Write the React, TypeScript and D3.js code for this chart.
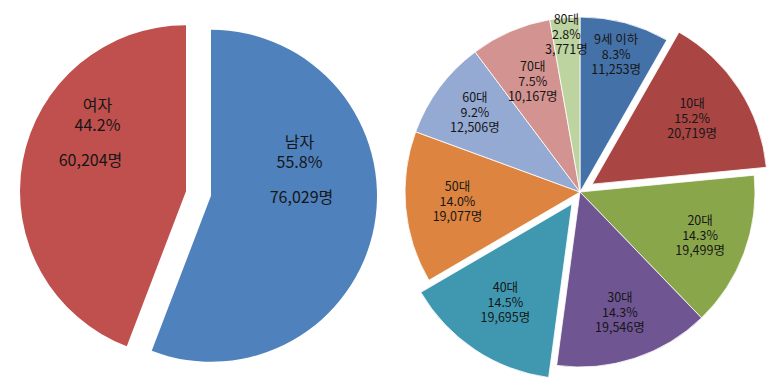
import * as d3 from 'd3';

// 성별
const GENDER_LABELS = ['남자', '여자'];
const GENDER_COUNTS = [76029, 60204];
const GENDER_PCTS = ['55.8%', '44.2%'];

// 연령대
const AGE_LABELS = ['9세 이하', '10대', '20대', '30대', '40대', '50대', '60대', '70대', '80대'];
const AGE_COUNTS = [11253, 20719, 19499, 19546, 19695, 19077, 12506, 10167, 3771];
const AGE_PCTS = ['8.3%', '15.2%', '14.3%', '14.3%', '14.5%', '14.0%', '9.2%', '7.5%', '2.8%'];
const AGE_EXPLODED = ['10대', '40대'];

const GENDER_COLORS = ['#4F81BD', '#C0504D'];
const AGE_COLORS = ['#4471A7', '#A94543', '#8AA64B', '#6F5591', '#3F98B0', '#DC8440', '#95AAD2', '#D39391', '#BDD3A0'];
// label distance from slice tip (Excel "best fit" pushes small slices outward)
const AGE_LABEL_R = [141, 119, 128, 128, 120, 123, 131, 119, 157];

const FONT = '"Noto Sans CJK KR", "Noto Sans", sans-serif';
const TEXT = '#161616';

const fmt = d3.format(',');

function offset(a: number, d: number): [number, number] {
  return [Math.sin(a) * d, -Math.cos(a) * d];
}

export default function App() {
  const pie = d3.pie<number>().sort(null).value(d => d);

  // left pie
  const lc = [198.5, 193.5];
  const lr = 166;
  const lArc = d3.arc<d3.PieArcDatum<number>>().innerRadius(0).outerRadius(lr);
  const lLabel = d3.arc<d3.PieArcDatum<number>>().innerRadius(90).outerRadius(90);
  const gArcs = pie(GENDER_COUNTS);

  // right pie
  const rc = [580, 192];
  const rr = 175;
  const rArc = d3.arc<d3.PieArcDatum<number>>().innerRadius(0).outerRadius(rr);
  const aArcs = pie(AGE_COUNTS);

  const txt = (x: number, y: number, s: string, size: number, key: string) => (
    <text key={key} x={x} y={y} textAnchor="middle" dominantBaseline="middle"
      fontFamily={FONT} fontSize={size} fill={TEXT}>{s}</text>
  );

  return (
    <svg width={780} height={390} style={{ position: 'absolute', left: 0, top: 0, background: '#fff' }}>
      <g transform={`translate(${lc[0]},${lc[1]})`}>
        {gArcs.map((a, i) => {
          const mid = (a.startAngle + a.endAngle) / 2;
          const [dx, dy] = offset(mid, 12.7);
          const [lx, ly] = lLabel.centroid(a);
          const y0 = ly - 68;
          return (
            <g key={i} transform={`translate(${dx},${dy})`}>
              <path d={lArc(a) || ''} fill={GENDER_COLORS[i]} />
              {txt(lx, y0, GENDER_LABELS[i], 16, 'n')}
              {txt(lx, y0 + 20, GENDER_PCTS[i], 16, 'p')}
              {txt(lx + (lx < 0 ? -7 : 2), y0 + 55, `${fmt(GENDER_COUNTS[i])}명`, 16, 'c')}
            </g>
          );
        })}
      </g>

      <g transform={`translate(${rc[0]},${rc[1]})`}>
        {aArcs.map((a, i) => {
          const mid = (a.startAngle + a.endAngle) / 2;
          const [dx, dy] = AGE_EXPLODED.includes(AGE_LABELS[i]) ? offset(mid, 14.5) : [0, 0];
          return (
            <g key={i} transform={`translate(${dx},${dy})`}>
              <path d={rArc(a) || ''} fill={AGE_COLORS[i]} stroke="#fff" strokeWidth={0.8} />
            </g>
          );
        })}
        {aArcs.map((a, i) => {
          const mid = (a.startAngle + a.endAngle) / 2;
          const [dx, dy] = AGE_EXPLODED.includes(AGE_LABELS[i]) ? offset(mid, 14.5) : [0, 0];
          const [ox, oy] = offset(mid, AGE_LABEL_R[i]);
          const x = dx + ox;
          const y = dy + oy;
          return (
            <g key={i}>
              {txt(x, y - 15, AGE_LABELS[i], 12.5, 'n')}
              {txt(x, y, AGE_PCTS[i], 12.5, 'p')}
              {txt(x, y + 15, `${fmt(AGE_COUNTS[i])}명`, 12.5, 'c')}
            </g>
          );
        })}
      </g>
    </svg>
  );
}
